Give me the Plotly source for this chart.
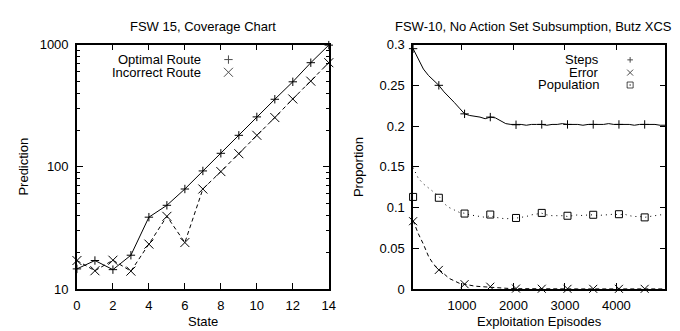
import plotly.graph_objects as go

# ---- Left chart data ----
states = list(range(15))
optimal_route = [14.6, 17.1, 14.4, 18.9, 38.7, 48.4, 65.8, 92.5, 129, 181, 256, 357, 496, 711, 990]
incorrect_route = [17.1, 14.1, 17.2, 14.0, 23.3, 39.3, 24.0, 65.8, 91.4, 128, 181, 253, 359, 502, 711]

# ---- Right chart data ----
episodes = [50 + 100 * i for i in range(50)]
steps_line = [0.295, 0.283, 0.270, 0.262, 0.256, 0.250, 0.242, 0.236, 0.229, 0.222,
              0.215, 0.213, 0.212, 0.211, 0.209, 0.211, 0.210, 0.206, 0.203, 0.202,
              0.202, 0.202, 0.201, 0.202, 0.202, 0.202, 0.201, 0.202, 0.202, 0.203,
              0.202, 0.202, 0.202, 0.201, 0.202, 0.202, 0.202, 0.202, 0.203, 0.202,
              0.202, 0.202, 0.202, 0.201, 0.202, 0.202, 0.202, 0.202, 0.201, 0.201]
error_line = [0.084, 0.068, 0.055, 0.040, 0.030, 0.024, 0.018, 0.013, 0.010, 0.007,
              0.0059, 0.0045, 0.0035, 0.0030, 0.0025, 0.0020, 0.0015, 0.0010, 0.0008, 0.0005,
              0.0004, 0.0003, 0.0002, 0.0002, 0.0001, 0.0001, 0.0001, 0.0001, 0.0001, 0.0001,
              0.0001, 0.0001, 0.0001, 0.0001, 0.0001, 0.0001, 0.0001, 0.0001, 0.0001, 0.0001,
              0.0001, 0.0001, 0.0001, 0.0001, 0.0001, 0.0001, 0.0001, 0.0001, 0.0001, 0.0001]
population_line = [0.149, 0.136, 0.129, 0.124, 0.120, 0.114, 0.105, 0.100, 0.097, 0.094,
                   0.093, 0.091, 0.090, 0.089, 0.088, 0.090, 0.088, 0.087, 0.086, 0.087,
                   0.087, 0.088, 0.089, 0.091, 0.092, 0.093, 0.091, 0.090, 0.090, 0.090,
                   0.089, 0.090, 0.091, 0.090, 0.091, 0.091, 0.090, 0.091, 0.091, 0.092,
                   0.091, 0.092, 0.090, 0.089, 0.089, 0.088, 0.089, 0.090, 0.091, 0.091]
marker_episodes = [50, 550, 1050, 1550, 2050, 2550, 3050, 3550, 4050, 4550]
steps_marks = [0.295, 0.250, 0.215, 0.211, 0.2016, 0.202, 0.202, 0.202, 0.202, 0.202]
error_marks = [0.0832, 0.0234, 0.0059, 0.0028, 0.0005, 0.0003, 0.0002, 0.0002, 0.0002, 0.0002]
population_marks = [0.113, 0.112, 0.0926, 0.0914, 0.0872, 0.0934, 0.0899, 0.0911, 0.0918, 0.0879]

left_legend = ["Optimal Route", "Incorrect Route"]
right_legend = ["Steps", "Error", "Population"]

W, H = 680, 331
FONT = "Liberation Sans, Arial, Helvetica, sans-serif"
BLACK = "black"
FS = 13

def px(x):
    return x / W

def py(y):
    return 1 - y / H

L_X0, L_X1 = 66, 322
R_X0, R_X1 = 407.7, 664
Y0, Y1 = 31, 287

fig = go.Figure()

# left chart
fig.add_trace(go.Scatter(x=states, y=optimal_route, mode="lines",
                         line=dict(color=BLACK, width=1), showlegend=False,
                         xaxis="x", yaxis="y"))
fig.add_trace(go.Scatter(x=states, y=incorrect_route, mode="lines",
                         line=dict(color=BLACK, width=1, dash="4px,3px"), showlegend=False,
                         xaxis="x", yaxis="y"))
fig.add_trace(go.Scatter(x=states, y=optimal_route, mode="markers",
                         marker=dict(symbol="cross-thin", size=6, line=dict(color=BLACK, width=1)),
                         showlegend=False, xaxis="x", yaxis="y", cliponaxis=False))
fig.add_trace(go.Scatter(x=states, y=incorrect_route, mode="markers",
                         marker=dict(symbol="x-thin", size=9, line=dict(color=BLACK, width=1)),
                         showlegend=False, xaxis="x", yaxis="y", cliponaxis=False))

# right chart
fig.add_trace(go.Scatter(x=episodes, y=steps_line, mode="lines",
                         line=dict(color=BLACK, width=1), showlegend=False,
                         xaxis="x2", yaxis="y2"))
fig.add_trace(go.Scatter(x=episodes, y=error_line, mode="lines",
                         line=dict(color=BLACK, width=1, dash="4px,3px"), showlegend=False,
                         xaxis="x2", yaxis="y2"))
fig.add_trace(go.Scatter(x=episodes, y=population_line, mode="lines",
                         line=dict(color=BLACK, width=1, dash="1px,4px"), showlegend=False,
                         xaxis="x2", yaxis="y2"))
fig.add_trace(go.Scatter(x=marker_episodes, y=steps_marks, mode="markers",
                         marker=dict(symbol="cross-thin", size=6, line=dict(color=BLACK, width=1)),
                         showlegend=False, xaxis="x2", yaxis="y2", cliponaxis=False))
fig.add_trace(go.Scatter(x=marker_episodes, y=error_marks, mode="markers",
                         marker=dict(symbol="x-thin", size=8, line=dict(color=BLACK, width=1)),
                         showlegend=False, xaxis="x2", yaxis="y2", cliponaxis=False))
fig.add_trace(go.Scatter(x=marker_episodes, y=population_marks, mode="markers",
                         marker=dict(symbol="square-open", size=7, color=BLACK,
                                     line=dict(color=BLACK, width=1)),
                         showlegend=False, xaxis="x2", yaxis="y2", cliponaxis=False))

# legend symbols on overlay axes (fractions of plot area)
fig.add_trace(go.Scatter(x=[0.6016, 0.6016], y=[0.9387, 0.8867], mode="markers",
                         marker=dict(symbol=["cross-thin", "x-thin"], size=[6, 9],
                                     line=dict(color=BLACK, width=1)),
                         showlegend=False, xaxis="x3", yaxis="y3", hoverinfo="skip"))
fig.add_trace(go.Scatter(x=[0.8607, 0.8607, 0.8607], y=[0.9375, 0.8854, 0.8346], mode="markers",
                         marker=dict(symbol=["cross-thin", "x-thin", "square-open-dot"], size=[4, 6, 6],
                                     color=BLACK, line=dict(color=BLACK, width=1)),
                         showlegend=False, xaxis="x4", yaxis="y4", hoverinfo="skip"))

dom_y = [py(Y1), py(Y0)]
axis_common = dict(showline=True, linecolor=BLACK, linewidth=1.5, mirror="ticks",
                   ticks="inside", tickcolor=BLACK, tickwidth=1, ticklen=6,
                   showgrid=False, zeroline=False, ticklabelstandoff=4,
                   tickfont=dict(family=FONT, size=FS, color=BLACK))

fig.update_layout(
    width=W, height=H,
    margin=dict(l=0, r=0, t=0, b=0),
    paper_bgcolor="white", plot_bgcolor="white",
    font=dict(family=FONT, size=FS, color=BLACK),
    showlegend=False,
    xaxis=dict(domain=[px(L_X0), px(L_X1)], range=[0, 14], tickvals=list(range(0, 15, 2)),
               anchor="y", **axis_common),
    yaxis=dict(domain=dom_y, type="log", range=[1, 3], tickvals=[10, 100, 1000],
               ticktext=["10", "100", "1000"], anchor="x",
               minor=dict(tickvals=[20, 30, 40, 50, 60, 70, 80, 90, 200, 300, 400, 500, 600, 700, 800, 900],
                          ticks="inside", ticklen=3, tickcolor=BLACK, tickwidth=1, showgrid=False),
               **axis_common),
    xaxis2=dict(domain=[px(R_X0), px(R_X1)], range=[50, 4950], tickvals=[1000, 2000, 3000, 4000],
                anchor="y2", **axis_common),
    yaxis2=dict(domain=dom_y, range=[0, 0.3], tickvals=[0, 0.05, 0.1, 0.15, 0.2, 0.25, 0.3],
                ticktext=["0", "0.05", "0.1", "0.15", "0.2", "0.25", "0.3"], anchor="x2",
                **axis_common),
    xaxis3=dict(overlaying="x", range=[0, 1], visible=False),
    yaxis3=dict(overlaying="y", range=[0, 1], visible=False),
    xaxis4=dict(overlaying="x2", range=[0, 1], visible=False),
    yaxis4=dict(overlaying="y2", range=[0, 1], visible=False),
)

def text_ann(text, x, y, xanchor="center", angle=0):
    return dict(text=text, x=px(x), y=py(y), xref="paper", yref="paper",
                xanchor=xanchor, yanchor="middle", showarrow=False, textangle=angle,
                font=dict(family=FONT, size=FS, color=BLACK))

ann = [
    text_ann("FSW 15, Coverage Chart", (L_X0 + L_X1) / 2, 12),
    text_ann("FSW-10, No Action Set Subsumption, Butz XCS", 530, 12),
    text_ann("State", (L_X0 + L_X1) / 2, 321),
    text_ann("Exploitation Episodes", (R_X0 + R_X1) / 2, 321),
    text_ann("Prediction", 12, 159, angle=-90),
    text_ann("Proportion", 352, 159, angle=-90),
]
for label, yy in zip(left_legend, [46.7, 60]):
    ann.append(text_ann(label, 194, yy, xanchor="right"))
for label, yy in zip(right_legend, [46.7, 60, 73]):
    ann.append(text_ann(label, 599, yy, xanchor="right"))
fig.update_layout(annotations=ann)

fig.write_html("out.html")
